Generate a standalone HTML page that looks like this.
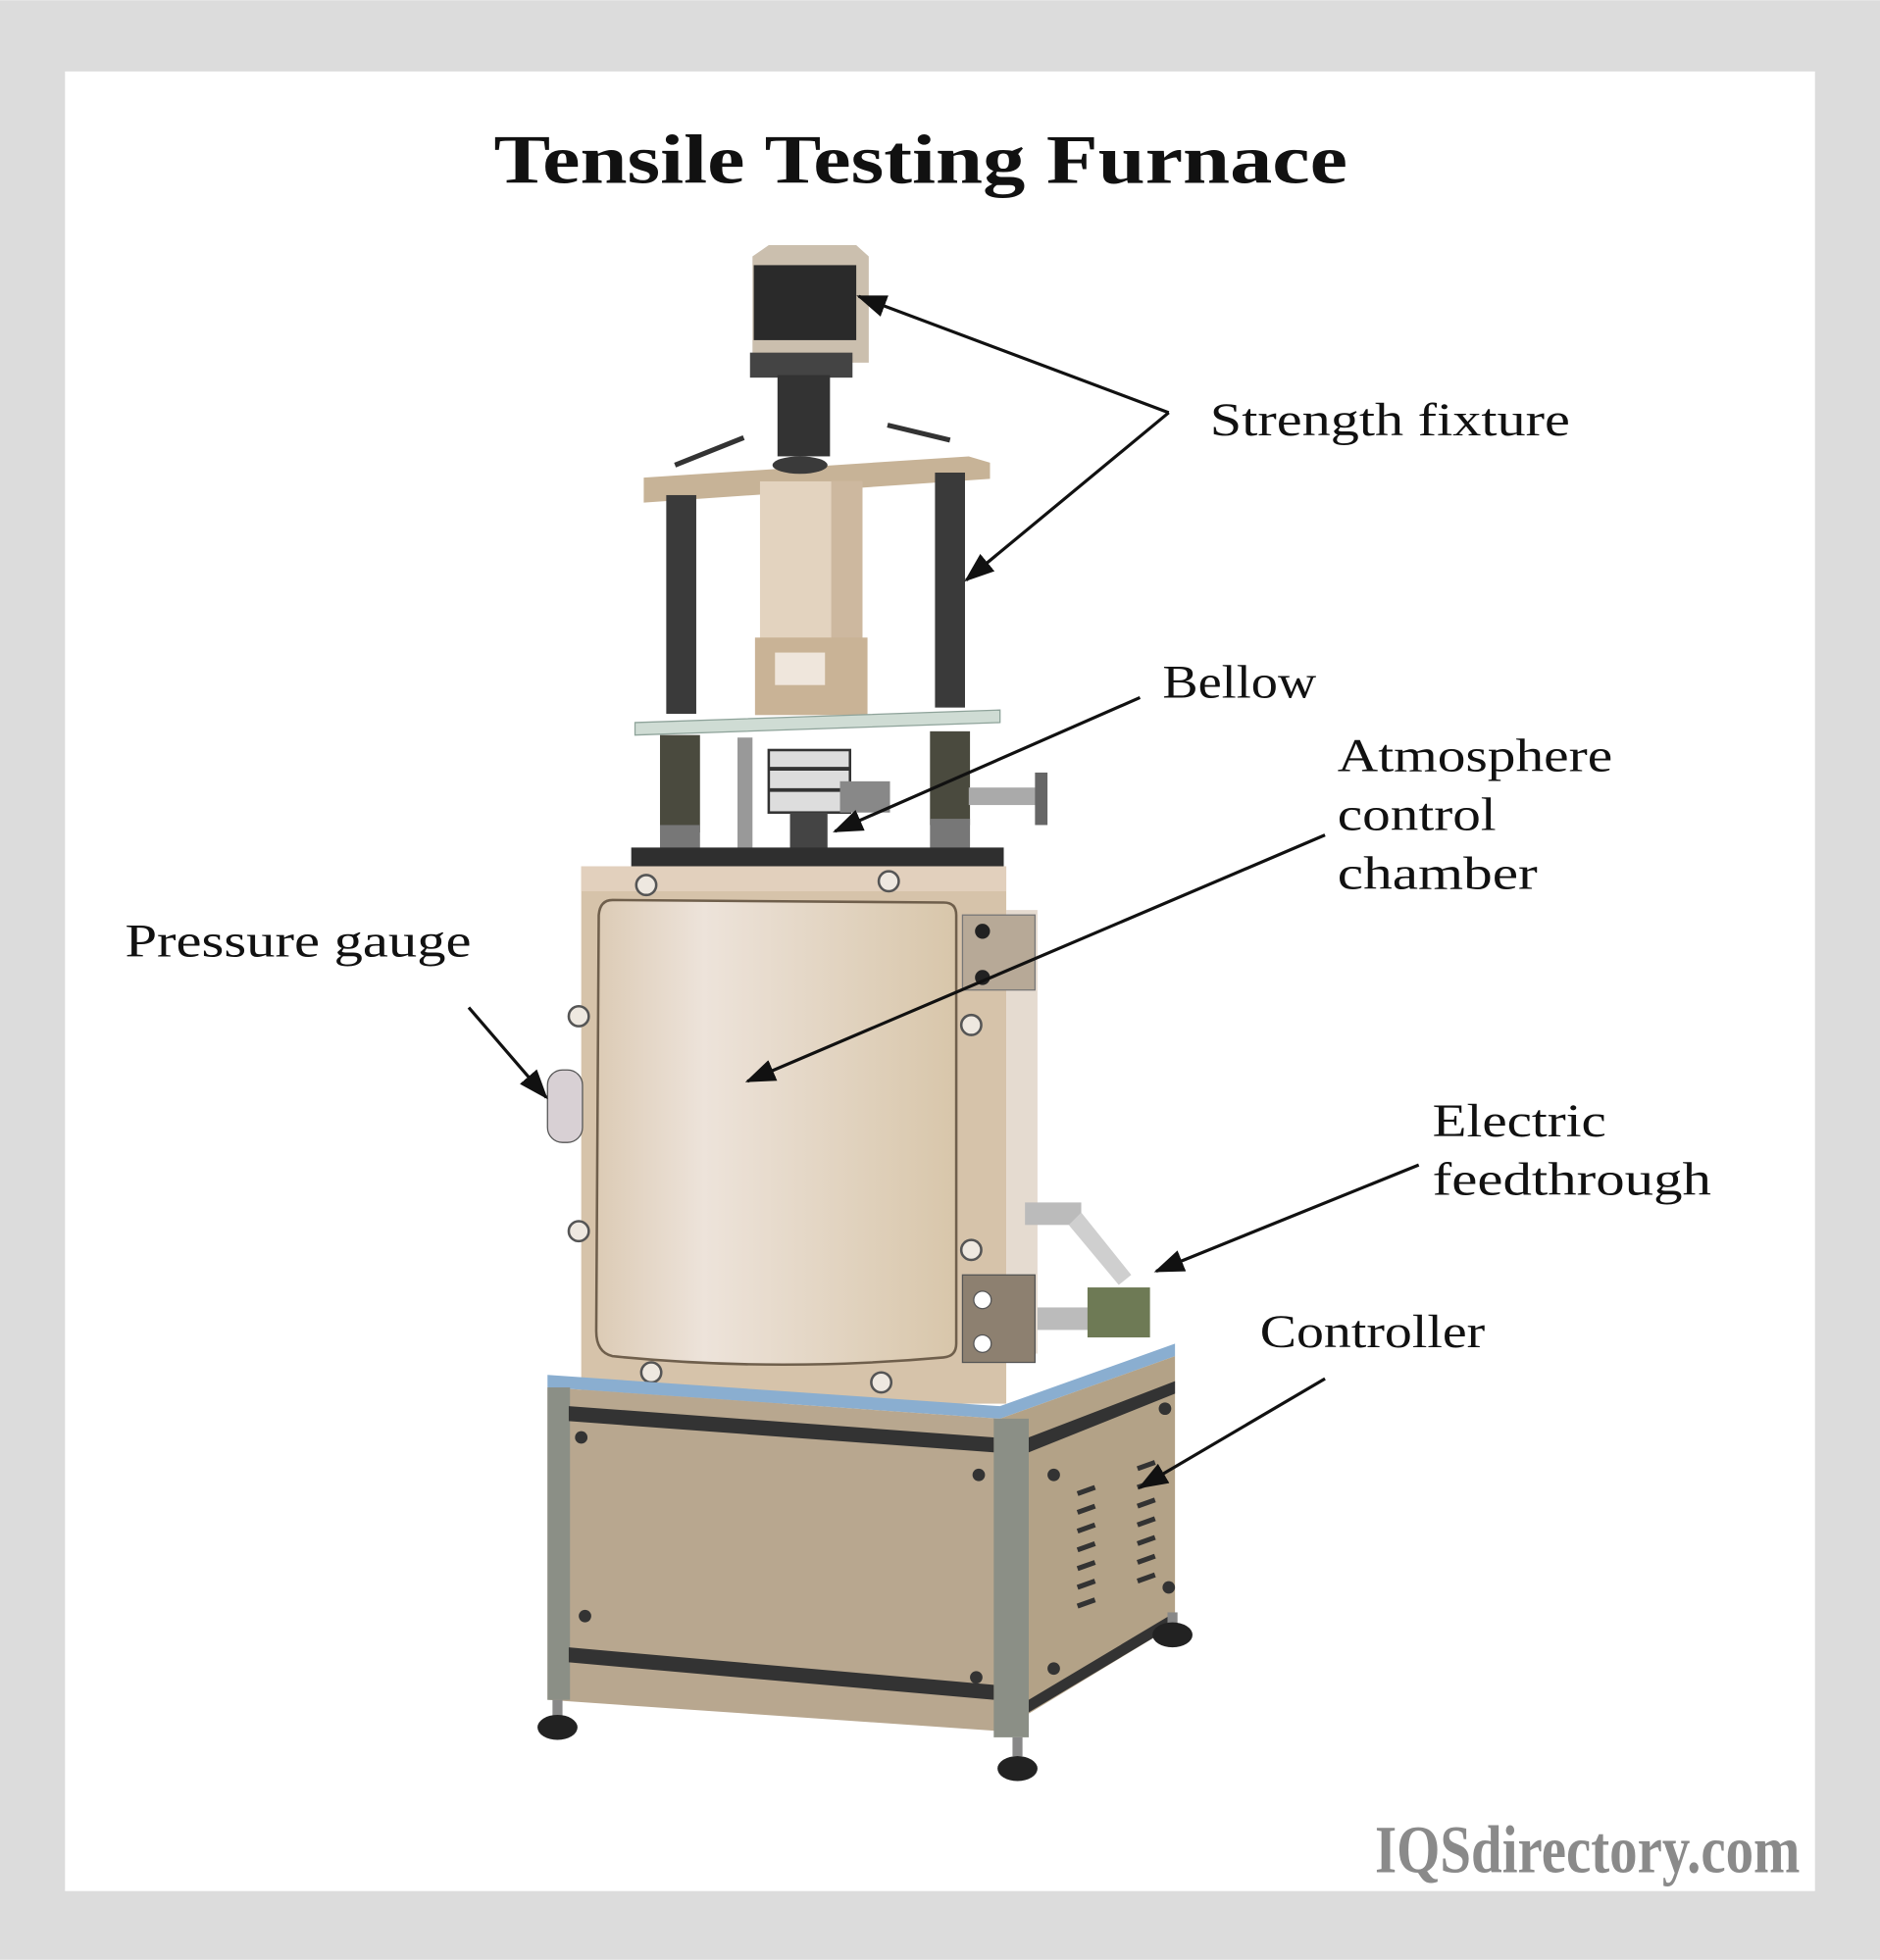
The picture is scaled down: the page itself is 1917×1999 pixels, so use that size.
<!DOCTYPE html>
<html><head><meta charset="utf-8"><style>
html,body{margin:0;padding:0;background:#fff}
svg{display:block}
text{font-family:"Liberation Serif",serif}
</style></head><body>
<svg width="1917" height="1999" viewBox="0 0 1504 1568" xmlns="http://www.w3.org/2000/svg">
<defs>
<marker id="a" markerWidth="24" markerHeight="18" refX="22" refY="9" orient="auto" markerUnits="userSpaceOnUse">
<path d="M0,0 L24,9 L0,18 Z" fill="#111"/></marker>
<linearGradient id="door" x1="0" x2="1"><stop offset="0" stop-color="#dccbb5"/><stop offset="0.3" stop-color="#ede3da"/><stop offset="1" stop-color="#d8c6aa"/></linearGradient>
</defs>
<rect width="1504" height="1568" fill="#dcdcdc"/>
<rect x="52" y="57" width="1400" height="1456" fill="#fff"/>
<text x="395" y="146" font-size="56" font-weight="bold" fill="#111" textLength="683" lengthAdjust="spacingAndGlyphs">Tensile Testing Furnace</text>

<!-- motor -->
<polygon points="602,205 615,196 685,196 695,205 695,290 602,290" fill="#cbbfae"/>
<rect x="603" y="212" width="82" height="60" fill="#2a2a2a"/>
<rect x="600" y="282" width="82" height="20" fill="#444"/>
<rect x="622" y="300" width="42" height="65" fill="#333"/>
<!-- top plate -->
<polygon points="515,382 775,365 792,370 792,383 515,402" fill="#c7b397"/>
<ellipse cx="640" cy="372" rx="22" ry="7" fill="#3a3a3a"/>
<line x1="540" y1="372" x2="595" y2="350" stroke="#333" stroke-width="4"/>
<line x1="710" y1="340" x2="760" y2="352" stroke="#333" stroke-width="4"/>
<!-- rods -->
<rect x="533" y="396" width="24" height="175" fill="#3a3a3a"/>
<rect x="748" y="378" width="24" height="188" fill="#3a3a3a"/>
<!-- center column -->
<rect x="608" y="385" width="82" height="185" fill="#e3d3bf"/>
<rect x="665" y="385" width="25" height="185" fill="#cdb89f"/>
<rect x="604" y="510" width="90" height="62" fill="#c9b396"/>
<rect x="620" y="522" width="40" height="26" fill="#efe6dc"/>
<!-- lower plate -->
<polygon points="508,578 800,568 800,578 508,588" fill="#cfdcd4" stroke="#8ea39a"/>
<rect x="528" y="588" width="32" height="78" fill="#4a4a3e"/>
<rect x="744" y="585" width="32" height="75" fill="#4a4a3e"/>
<rect x="528" y="660" width="32" height="20" fill="#777"/>
<rect x="744" y="655" width="32" height="25" fill="#777"/>
<rect x="775" y="630" width="55" height="14" fill="#aaa"/>
<rect x="828" y="618" width="10" height="42" fill="#666"/>
<!-- bellow -->
<rect x="590" y="590" width="12" height="90" fill="#999"/>
<rect x="615" y="600" width="65" height="50" fill="#ddd" stroke="#333" stroke-width="2"/>
<line x1="615" y1="615" x2="680" y2="615" stroke="#333" stroke-width="3"/>
<line x1="615" y1="632" x2="680" y2="632" stroke="#333" stroke-width="3"/>
<rect x="632" y="650" width="30" height="30" fill="#444"/>
<rect x="672" y="625" width="40" height="25" fill="#888"/>
<!-- base plate -->
<rect x="505" y="678" width="298" height="15" fill="#2f2f2f"/>
<!-- chamber -->
<rect x="465" y="693" width="340" height="430" fill="#d6c3aa"/>
<rect x="465" y="693" width="340" height="20" fill="#e2d0bd"/>
<path d="M490,720 L755,722 Q765,722 765,732 L765,1075 Q765,1085 755,1086 Q620,1098 490,1085 Q477,1082 477,1065 L479,732 Q480,720 490,720 Z" fill="url(#door)" stroke="#6f5f4c" stroke-width="2"/>
<rect x="805" y="728" width="25" height="355" fill="#e5dbd0"/>
<rect x="770" y="732" width="58" height="60" fill="#b7a997" stroke="#777"/>
<rect x="770" y="1020" width="58" height="70" fill="#8d8070" stroke="#555"/>
<circle cx="786" cy="745" r="6" fill="#222"/><circle cx="786" cy="782" r="6" fill="#222"/>
<circle cx="786" cy="1040" r="7" fill="#fff" stroke="#555"/><circle cx="786" cy="1075" r="7" fill="#fff" stroke="#555"/>
<g fill="#eee8e0" stroke="#555" stroke-width="2">
<circle cx="517" cy="708" r="8"/><circle cx="711" cy="705" r="8"/><circle cx="463" cy="813" r="8"/><circle cx="463" cy="985" r="8"/><circle cx="777" cy="820" r="8"/><circle cx="777" cy="1000" r="8"/><circle cx="521" cy="1098" r="8"/><circle cx="705" cy="1106" r="8"/></g>
<!-- gauge -->
<rect x="438" y="856" width="28" height="58" rx="12" fill="#d8d0d4" stroke="#555"/>
<!-- feedthrough -->
<rect x="820" y="962" width="45" height="18" fill="#bbb"/>
<polygon points="855,980 865,970 905,1020 895,1028" fill="#cfcfcf"/>
<rect x="830" y="1046" width="50" height="18" fill="#bbb"/>
<rect x="870" y="1030" width="50" height="40" fill="#6e7a55"/>
<!-- base box -->
<polygon points="438,1100 800,1125 940,1075 940,1085 800,1135 438,1110" fill="#8aaed0"/>
<polygon points="438,1110 800,1135 800,1385 438,1360" fill="#b8a78f"/>
<polygon points="800,1135 940,1085 940,1300 800,1385" fill="#b3a287"/>
<rect x="438" y="1110" width="18" height="250" fill="#8b8f86"/>
<rect x="795" y="1135" width="28" height="255" fill="#8b8f86"/>
<polygon points="455,1125 795,1150 795,1162 455,1137" fill="#333"/>
<polygon points="455,1318 795,1348 795,1360 455,1330" fill="#333"/>
<polygon points="823,1150 940,1105 940,1115 823,1162" fill="#333"/>
<polygon points="823,1360 940,1290 940,1300 823,1370" fill="#333"/>
<g stroke="#333" stroke-width="4">
<line x1="862" y1="1195" x2="876" y2="1190"/><line x1="862" y1="1210" x2="876" y2="1205"/><line x1="862" y1="1225" x2="876" y2="1220"/><line x1="862" y1="1240" x2="876" y2="1235"/><line x1="862" y1="1255" x2="876" y2="1250"/><line x1="862" y1="1270" x2="876" y2="1265"/><line x1="862" y1="1285" x2="876" y2="1280"/>
<line x1="910" y1="1175" x2="924" y2="1170"/><line x1="910" y1="1190" x2="924" y2="1185"/><line x1="910" y1="1205" x2="924" y2="1200"/><line x1="910" y1="1220" x2="924" y2="1215"/><line x1="910" y1="1235" x2="924" y2="1230"/><line x1="910" y1="1250" x2="924" y2="1245"/><line x1="910" y1="1265" x2="924" y2="1260"/></g>
<g fill="#333"><circle cx="465" cy="1150" r="5"/><circle cx="783" cy="1180" r="5"/><circle cx="468" cy="1293" r="5"/><circle cx="781" cy="1342" r="5"/><circle cx="843" cy="1180" r="5"/><circle cx="932" cy="1127" r="5"/><circle cx="843" cy="1335" r="5"/><circle cx="935" cy="1270" r="5"/></g>
<!-- feet -->
<rect x="442" y="1360" width="8" height="15" fill="#888"/><ellipse cx="446" cy="1382" rx="16" ry="10" fill="#222"/>
<rect x="810" y="1390" width="8" height="15" fill="#888"/><ellipse cx="814" cy="1415" rx="16" ry="10" fill="#222"/>
<rect x="934" y="1290" width="8" height="12" fill="#888"/><ellipse cx="938" cy="1308" rx="16" ry="10" fill="#222"/>

<!-- arrows -->
<g stroke="#111" stroke-width="2.5" fill="none">
<line x1="935" y1="330" x2="687" y2="237" marker-end="url(#a)"/>
<line x1="935" y1="330" x2="773" y2="464" marker-end="url(#a)"/>
<line x1="912" y1="558" x2="668" y2="665" marker-end="url(#a)"/>
<line x1="1060" y1="668" x2="598" y2="865" marker-end="url(#a)"/>
<line x1="375" y1="806" x2="437" y2="878" marker-end="url(#a)"/>
<line x1="1135" y1="932" x2="925" y2="1017" marker-end="url(#a)"/>
<line x1="1060" y1="1103" x2="912" y2="1190" marker-end="url(#a)"/>
</g>
<g font-size="37" fill="#111" lengthAdjust="spacingAndGlyphs">
<text x="968" y="348" textLength="288" lengthAdjust="spacingAndGlyphs">Strength fixture</text>
<text x="930" y="558" textLength="123" lengthAdjust="spacingAndGlyphs">Bellow</text>
<text x="1070" y="617" textLength="220" lengthAdjust="spacingAndGlyphs">Atmosphere</text>
<text x="1070" y="664" textLength="127" lengthAdjust="spacingAndGlyphs">control</text>
<text x="1070" y="711" textLength="160" lengthAdjust="spacingAndGlyphs">chamber</text>
<text x="100" y="765" textLength="277" lengthAdjust="spacingAndGlyphs">Pressure gauge</text>
<text x="1146" y="909" textLength="139" lengthAdjust="spacingAndGlyphs">Electric</text>
<text x="1146" y="956" textLength="223" lengthAdjust="spacingAndGlyphs">feedthrough</text>
<text x="1008" y="1078" textLength="180" lengthAdjust="spacingAndGlyphs">Controller</text>
</g>
<text x="1100" y="1498" font-family="Liberation Sans Narrow,Liberation Sans,sans-serif" font-size="54" font-weight="bold" fill="#8a8a8a" textLength="340" lengthAdjust="spacingAndGlyphs">IQSdirectory.com</text>
</svg>
</body></html>
